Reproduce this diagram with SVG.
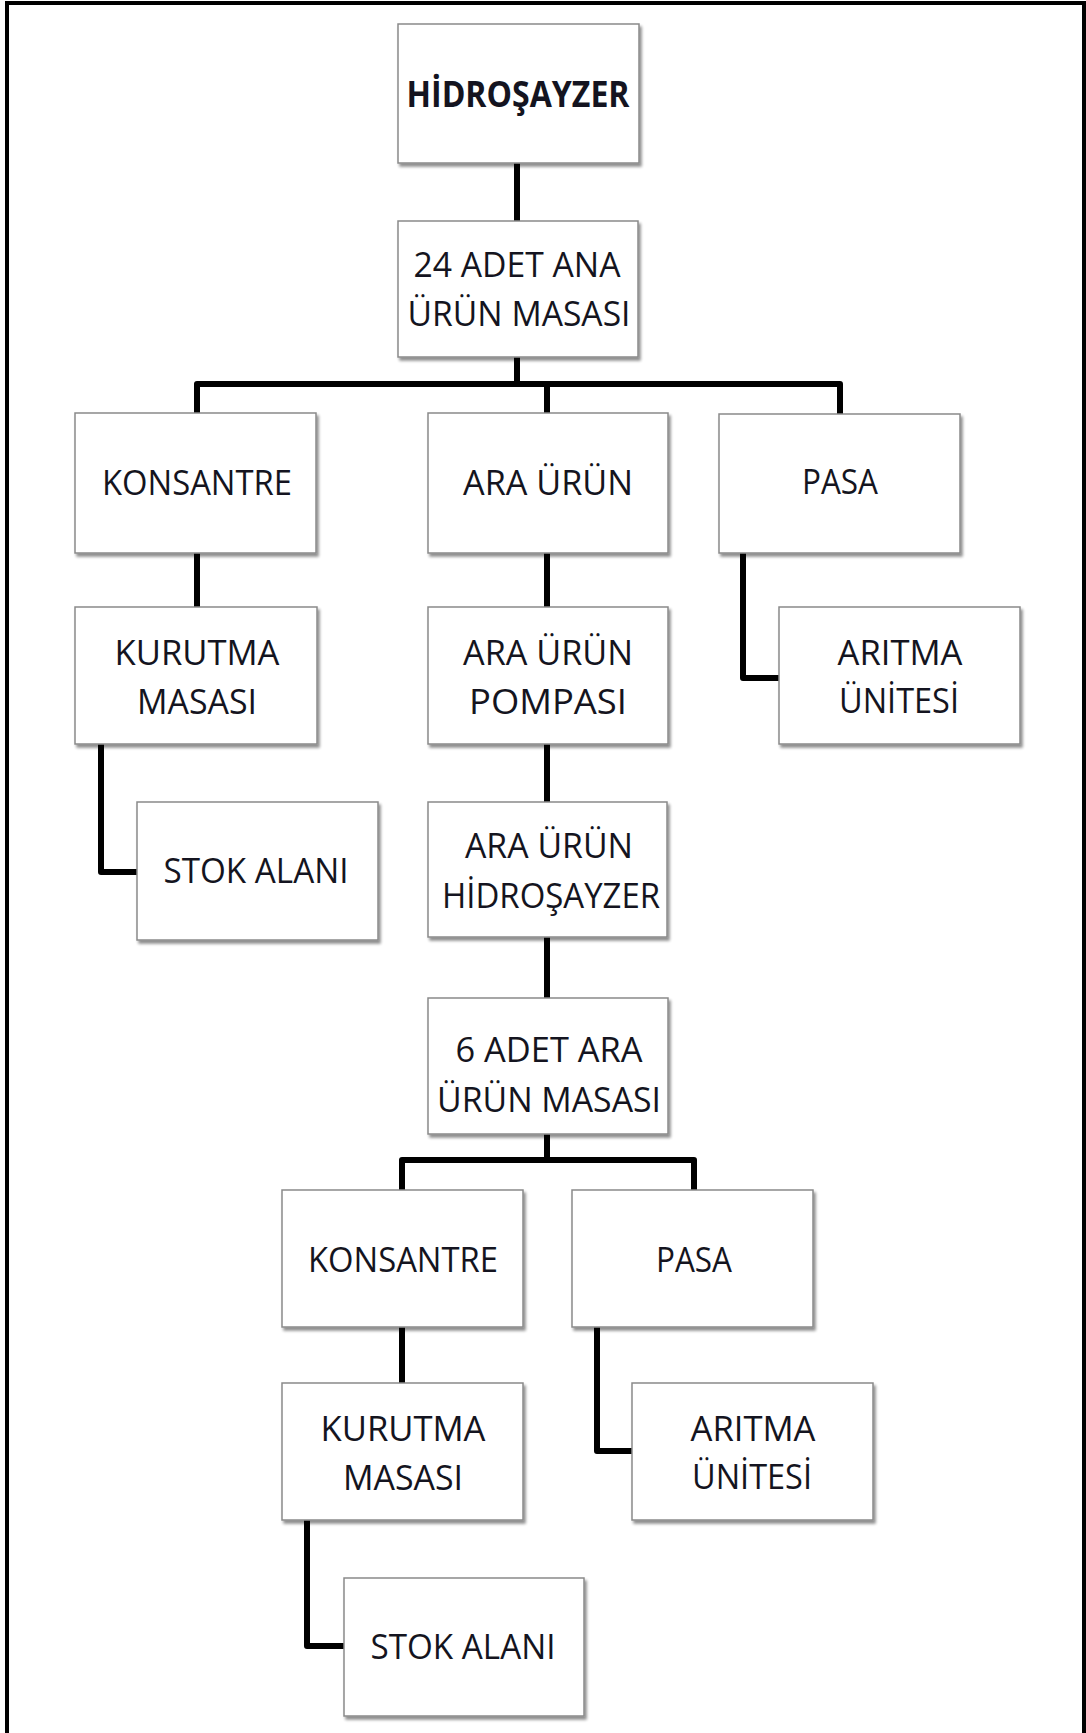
<svg xmlns="http://www.w3.org/2000/svg" width="1086" height="1733" viewBox="0 0 1086 1733">
<style>
.box{fill:#ffffff;stroke:#8a8a8a;stroke-width:1.5;filter:url(#sh)}
.t{font-family:"Open Sans","Noto Sans","Liberation Sans",sans-serif;font-size:35.5px;fill:#141420;text-anchor:middle}
.b{font-weight:bold}
.c{fill:none;stroke:#000;stroke-width:6;stroke-linejoin:round}
</style>
<defs>
<filter id="sh" x="-10%" y="-10%" width="125%" height="125%">
<feGaussianBlur in="SourceAlpha" stdDeviation="1.5"/>
<feOffset dx="2" dy="3" result="o"/>
<feComponentTransfer><feFuncA type="linear" slope="0.45"/></feComponentTransfer>
<feMerge><feMergeNode/><feMergeNode in="SourceGraphic"/></feMerge>
</filter>
</defs>
<rect width="1086" height="1733" fill="#ffffff"/>
<path d="M7,1733 V3 H1084 V1733" fill="none" stroke="#000" stroke-width="4"/>
<g id="connectors">
<path class="c" d="M517,163 V221"/>
<path class="c" d="M517,357 V384"/>
<path class="c" d="M197,413 V384 H840 V414"/>
<path class="c" d="M547,384 V413"/>
<path class="c" d="M197,553 V607"/>
<path class="c" d="M101,744 V872 H137"/>
<path class="c" d="M547,553 V607"/>
<path class="c" d="M547,744 V802"/>
<path class="c" d="M547,937 V998"/>
<path class="c" d="M547,1134 V1160"/>
<path class="c" d="M402,1190 V1160 H694 V1190"/>
<path class="c" d="M743,553 V678 H779"/>
<path class="c" d="M402,1327 V1383"/>
<path class="c" d="M597,1327 V1451 H632"/>
<path class="c" d="M307,1520 V1646 H344"/>
</g>
<g id="n1"><rect class="box" x="398" y="24" width="241" height="139"/><text class="t b" x="518" y="107" textLength="223" lengthAdjust="spacingAndGlyphs">HİDROŞAYZER</text></g>
<g id="n2"><rect class="box" x="398" y="221" width="240" height="136"/><text class="t" x="517" y="277" textLength="207" lengthAdjust="spacingAndGlyphs">24 ADET ANA</text><text class="t" x="519" y="326" textLength="223" lengthAdjust="spacingAndGlyphs">ÜRÜN MASASI</text></g>
<g id="n3"><rect class="box" x="75" y="413" width="241" height="140"/><text class="t" x="197" y="495" textLength="190" lengthAdjust="spacingAndGlyphs">KONSANTRE</text></g>
<g id="n4"><rect class="box" x="428" y="413" width="240" height="140"/><text class="t" x="548" y="495" textLength="170" lengthAdjust="spacingAndGlyphs">ARA ÜRÜN</text></g>
<g id="n5"><rect class="box" x="719" y="414" width="241" height="139"/><text class="t" x="840" y="494" textLength="76" lengthAdjust="spacingAndGlyphs">PASA</text></g>
<g id="n6"><rect class="box" x="75" y="607" width="242" height="137"/><text class="t" x="197" y="665" textLength="165" lengthAdjust="spacingAndGlyphs">KURUTMA</text><text class="t" x="197" y="714" textLength="120" lengthAdjust="spacingAndGlyphs">MASASI</text></g>
<g id="n7"><rect class="box" x="428" y="607" width="240" height="137"/><text class="t" x="548" y="665" textLength="170" lengthAdjust="spacingAndGlyphs">ARA ÜRÜN</text><text class="t" x="548" y="714" textLength="158" lengthAdjust="spacingAndGlyphs">POMPASI</text></g>
<g id="n8"><rect class="box" x="779" y="607" width="241" height="137"/><text class="t" x="900" y="665" textLength="125" lengthAdjust="spacingAndGlyphs">ARITMA</text><text class="t" x="899" y="713" textLength="120" lengthAdjust="spacingAndGlyphs">ÜNİTESİ</text></g>
<g id="n9"><rect class="box" x="137" y="802" width="241" height="138"/><text class="t" x="256" y="883" textLength="185" lengthAdjust="spacingAndGlyphs">STOK ALANI</text></g>
<g id="n10"><rect class="box" x="428" y="802" width="239" height="135"/><text class="t" x="549" y="858" textLength="168" lengthAdjust="spacingAndGlyphs">ARA ÜRÜN</text><text class="t" x="551" y="908" textLength="218" lengthAdjust="spacingAndGlyphs">HİDROŞAYZER</text></g>
<g id="n11"><rect class="box" x="428" y="998" width="240" height="136"/><text class="t" x="549" y="1062" textLength="187" lengthAdjust="spacingAndGlyphs">6 ADET ARA</text><text class="t" x="549" y="1112" textLength="224" lengthAdjust="spacingAndGlyphs">ÜRÜN MASASI</text></g>
<g id="n12"><rect class="box" x="282" y="1190" width="241" height="137"/><text class="t" x="403" y="1272" textLength="190" lengthAdjust="spacingAndGlyphs">KONSANTRE</text></g>
<g id="n13"><rect class="box" x="572" y="1190" width="241" height="137"/><text class="t" x="694" y="1272" textLength="76" lengthAdjust="spacingAndGlyphs">PASA</text></g>
<g id="n14"><rect class="box" x="282" y="1383" width="241" height="137"/><text class="t" x="403" y="1441" textLength="165" lengthAdjust="spacingAndGlyphs">KURUTMA</text><text class="t" x="403" y="1490" textLength="120" lengthAdjust="spacingAndGlyphs">MASASI</text></g>
<g id="n15"><rect class="box" x="632" y="1383" width="241" height="137"/><text class="t" x="753" y="1441" textLength="125" lengthAdjust="spacingAndGlyphs">ARITMA</text><text class="t" x="752" y="1489" textLength="120" lengthAdjust="spacingAndGlyphs">ÜNİTESİ</text></g>
<g id="n16"><rect class="box" x="344" y="1578" width="240" height="138"/><text class="t" x="463" y="1659" textLength="185" lengthAdjust="spacingAndGlyphs">STOK ALANI</text></g>
</svg>
